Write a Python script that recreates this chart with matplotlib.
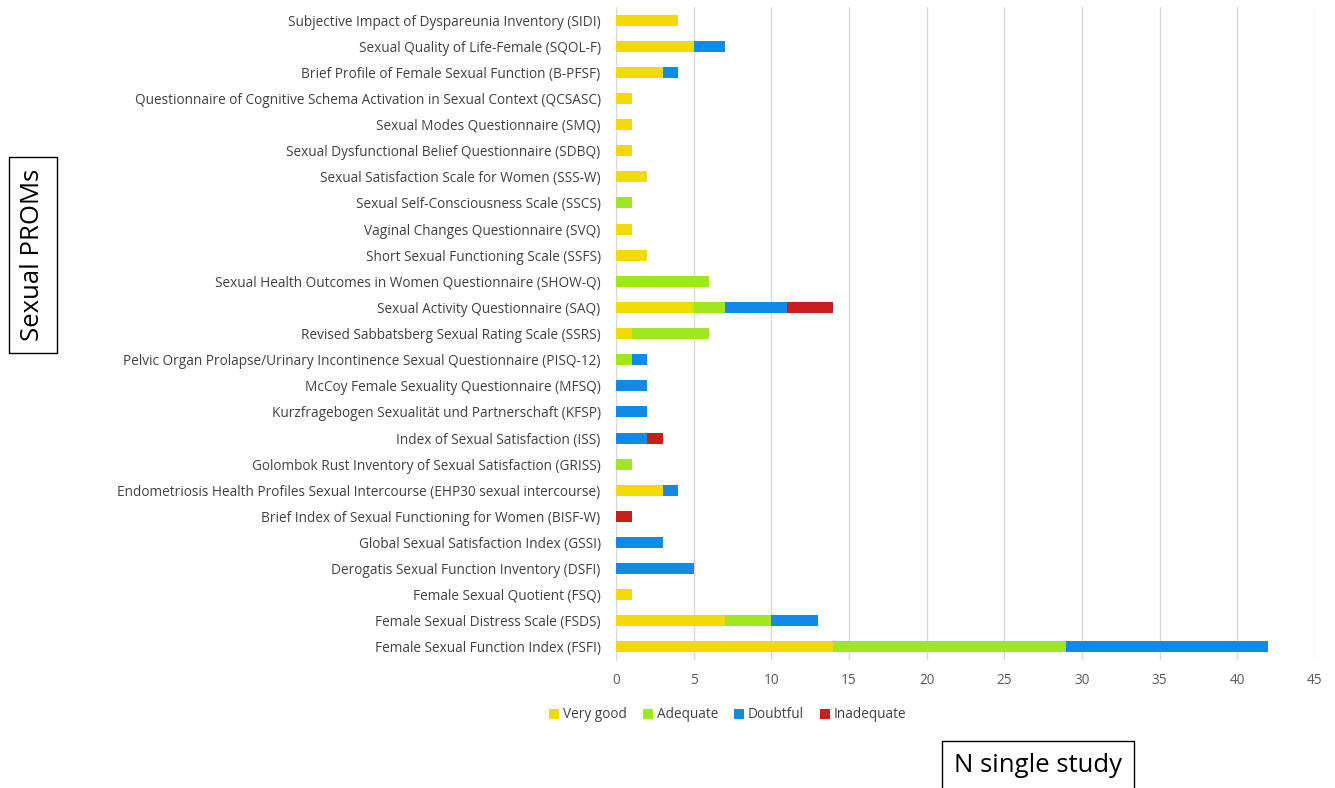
import matplotlib.pyplot as plt
import numpy as np

# --- data (bottom to top, as drawn) ---
proms = [
    "Female Sexual Function Index (FSFI)",
    "Female Sexual Distress Scale (FSDS)",
    "Female Sexual Quotient (FSQ)",
    "Derogatis Sexual Function Inventory (DSFI)",
    "Global Sexual Satisfaction Index (GSSI)",
    "Brief Index of Sexual Functioning for Women (BISF-W)",
    "Endometriosis Health Profiles Sexual Intercourse (EHP30 sexual intercourse)",
    "Golombok Rust Inventory of Sexual Satisfaction (GRISS)",
    "Index of Sexual Satisfaction (ISS)",
    "Kurzfragebogen Sexualität und Partnerschaft (KFSP)",
    "McCoy Female Sexuality Questionnaire (MFSQ)",
    "Pelvic Organ Prolapse/Urinary Incontinence Sexual Questionnaire (PISQ-12)",
    "Revised Sabbatsberg Sexual Rating Scale (SSRS)",
    "Sexual Activity Questionnaire (SAQ)",
    "Sexual Health Outcomes in Women Questionnaire (SHOW-Q)",
    "Short Sexual Functioning Scale (SSFS)",
    "Vaginal Changes Questionnaire (SVQ)",
    "Sexual Self-Consciousness Scale (SSCS)",
    "Sexual Satisfaction Scale for Women (SSS-W)",
    "Sexual Dysfunctional Belief Questionnaire (SDBQ)",
    "Sexual Modes Questionnaire (SMQ)",
    "Questionnaire of Cognitive Schema Activation in Sexual Context (QCSASC)",
    "Brief Profile of Female Sexual Function (B-PFSF)",
    "Sexual Quality of Life-Female (SQOL-F)",
    "Subjective Impact of Dyspareunia Inventory (SIDI)",
]
very_good  = [14, 7, 1, 0, 0, 0, 3, 0, 0, 0, 0, 0, 1, 5, 0, 2, 1, 0, 2, 1, 1, 1, 3, 5, 4]
adequate   = [15, 3, 0, 0, 0, 0, 0, 1, 0, 0, 0, 1, 5, 2, 6, 0, 0, 1, 0, 0, 0, 0, 0, 0, 0]
doubtful   = [13, 3, 0, 5, 3, 0, 1, 0, 2, 2, 2, 1, 0, 4, 0, 0, 0, 0, 0, 0, 0, 0, 1, 2, 0]
inadequate = [0, 0, 0, 0, 0, 1, 0, 0, 1, 0, 0, 0, 0, 3, 0, 0, 0, 0, 0, 0, 0, 0, 0, 0, 0]

series = [
    ("Very good", very_good, "#F2DA07"),
    ("Adequate", adequate, "#9FE820"),
    ("Doubtful", doubtful, "#0F8BE6"),
    ("Inadequate", inadequate, "#C71E1E"),
]

plt.rcParams['font.family'] = ['Open Sans', 'DejaVu Sans']

fig = plt.figure(figsize=(13.35, 7.88), dpi=100)
ax = fig.add_axes([0.4614, 0.1624, 0.5236, 0.8286])

y = np.arange(len(proms))
left = np.zeros(len(proms))
for name, vals, col in series:
    vals = np.array(vals, dtype=float)
    ax.barh(y, vals, left=left, height=0.42, color=col, label=name, zorder=3)
    left += vals

ax.set_xlim(0, 45)
ax.set_ylim(-0.5, len(proms) - 0.5)
ax.set_xticks(range(0, 46, 5))
ax.set_yticks(y)
ax.set_yticklabels(proms)
ax.tick_params(axis='both', length=0, labelsize=9.8, colors="#595959")
ax.tick_params(axis='y', colors="#404040", pad=11)
ax.tick_params(axis='x', pad=9)
ax.xaxis.grid(True, color="#D9D9D9", linewidth=1, zorder=0)
for s in ["top", "right", "bottom"]:
    ax.spines[s].set_visible(False)
ax.spines["left"].set_color("#D9D9D9")

ax.legend(loc="center", bbox_to_anchor=(728 / 1335, 1 - 715 / 788),
          bbox_transform=fig.transFigure, ncol=4, frameon=False,
          fontsize=9.8, handlelength=0.7, handleheight=0.7,
          handletextpad=0.3, columnspacing=1.2, labelcolor="#404040")

box = dict(boxstyle="square,pad=0.45", facecolor="white", edgecolor="black", linewidth=1)
fig.text(33 / 1335, 1 - 255 / 788, "Sexual PROMs", rotation=90, fontsize=18.5,
         ha="center", va="center", bbox=box)
fig.text(1038 / 1335, 1 - 765 / 788, "N single study", fontsize=18.5,
         ha="center", va="center", bbox=box)

fig.savefig("out.png", dpi=100)
